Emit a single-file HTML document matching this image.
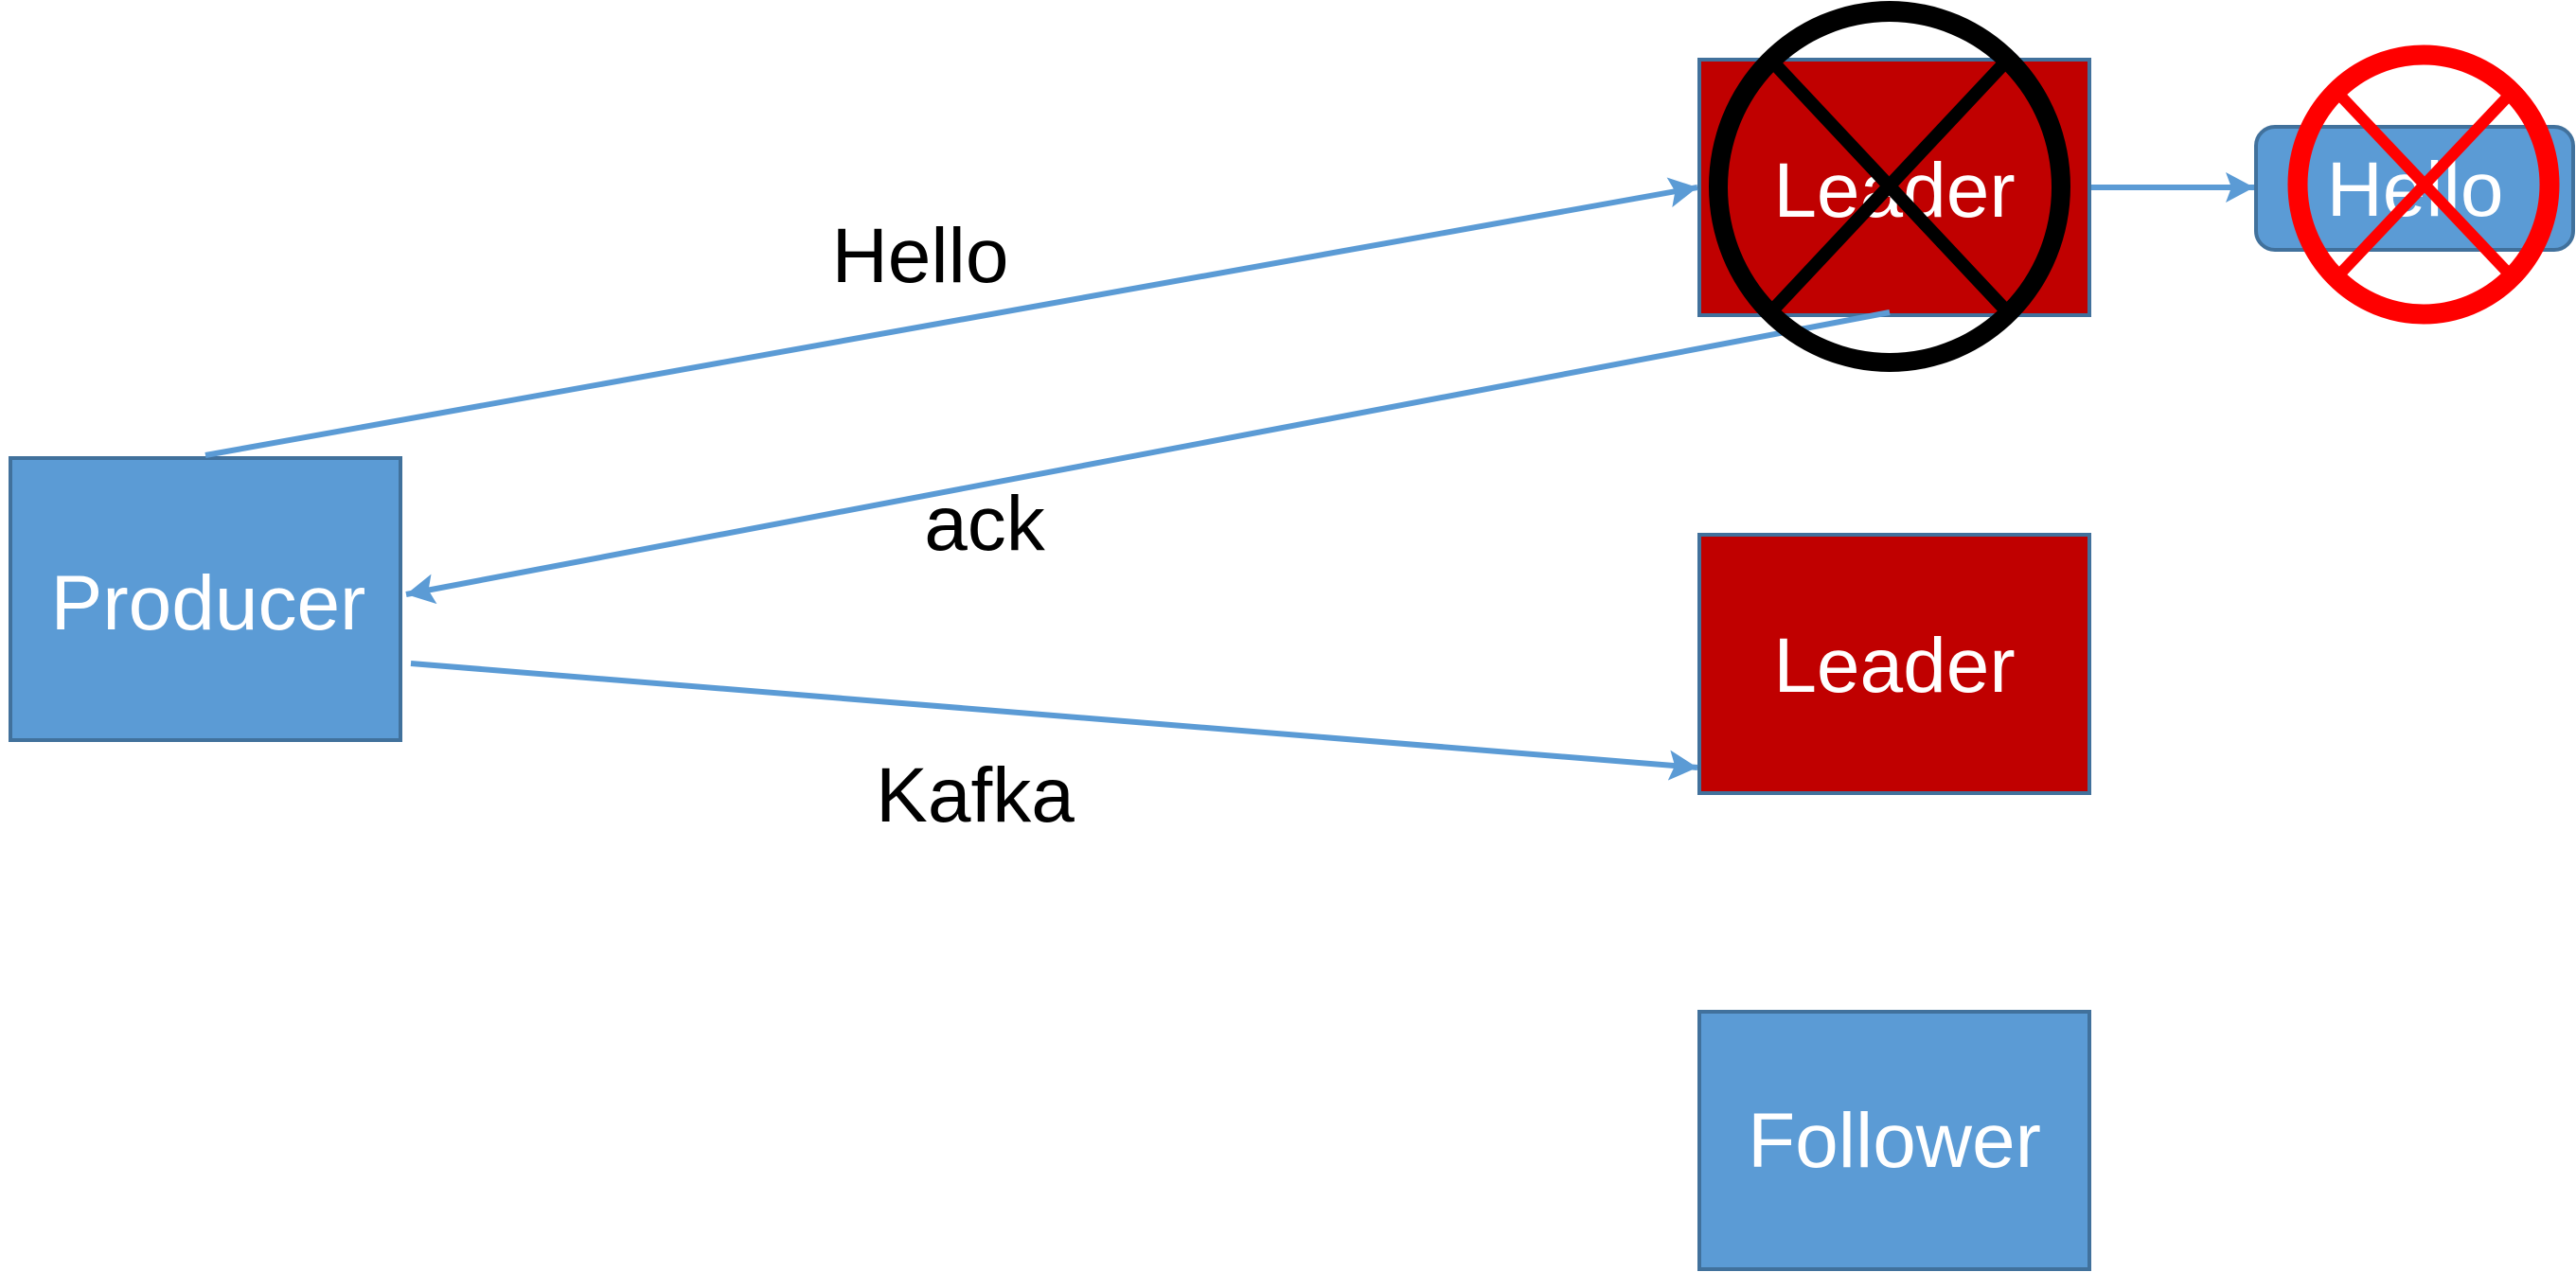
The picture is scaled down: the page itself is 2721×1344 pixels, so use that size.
<!DOCTYPE html>
<html><head><meta charset="utf-8"><style>
html,body{margin:0;padding:0;background:#fff;}
svg{display:block;}
text{font-family:"Liberation Sans",Arial,sans-serif;font-size:82px;text-anchor:middle;}
</style></head><body>
<svg width="2721" height="1344" viewBox="0 0 2721 1344" xmlns="http://www.w3.org/2000/svg">
<defs>
<marker id="ah" markerUnits="userSpaceOnUse" markerWidth="32" markerHeight="32" refX="30" refY="16" orient="auto">
<path d="M0,0 L30,16 L0,32 L6,16 Z" fill="#5b9bd5"/>
</marker>
</defs>
<rect x="11" y="484" width="412" height="298" fill="#5b9bd5" stroke="#41719c" stroke-width="4"/>
<text x="220" y="665" fill="#fff">Producer</text>
<rect x="1795" y="63" width="412" height="270" fill="#c00000" stroke="#41719c" stroke-width="4"/>
<text x="2001" y="229" fill="#fff">Leader</text>
<rect x="1795" y="565" width="412" height="273" fill="#c00000" stroke="#41719c" stroke-width="4"/>
<text x="2001" y="731" fill="#fff">Leader</text>
<rect x="1795" y="1069" width="412" height="272" fill="#5b9bd5" stroke="#41719c" stroke-width="4"/>
<text x="2001" y="1233" fill="#fff">Follower</text>
<rect x="2383" y="134" width="335" height="130" rx="20" fill="#5b9bd5" stroke="#41719c" stroke-width="4"/>
<text x="2551" y="228" fill="#fff">Hello</text>
<line x1="217" y1="481" x2="1793" y2="198" stroke="#5b9bd5" stroke-width="6" marker-end="url(#ah)"/>
<line x1="1996" y1="330" x2="429" y2="628" stroke="#5b9bd5" stroke-width="6" marker-end="url(#ah)"/>
<line x1="434" y1="701" x2="1793" y2="811" stroke="#5b9bd5" stroke-width="6" marker-end="url(#ah)"/>
<line x1="2209" y1="198" x2="2381" y2="198" stroke="#5b9bd5" stroke-width="6" marker-end="url(#ah)"/>
<text x="972" y="298" fill="#000">Hello</text>
<text x="1040" y="581" fill="#000">ack</text>
<text x="1030" y="868" fill="#000">Kafka</text>
<path fill="#000" fill-rule="evenodd" d="M1805,197 a191,196 0 1,0 382,0 a191,196 0 1,0 -382,0 Z M1825,198 a171,175 0 1,0 342,0 a171,175 0 1,0 -342,0 Z"/>
<line x1="1875" y1="68" x2="2116" y2="325" stroke="#000" stroke-width="14"/>
<line x1="2116" y1="68" x2="1875" y2="325" stroke="#000" stroke-width="14"/>
<ellipse cx="2560" cy="195" rx="133" ry="137" fill="none" stroke="#ff0000" stroke-width="21"/>
<line x1="2474" y1="103" x2="2648" y2="287" stroke="#ff0000" stroke-width="12"/>
<line x1="2648" y1="103" x2="2474" y2="287" stroke="#ff0000" stroke-width="12"/>
</svg>
</body></html>
